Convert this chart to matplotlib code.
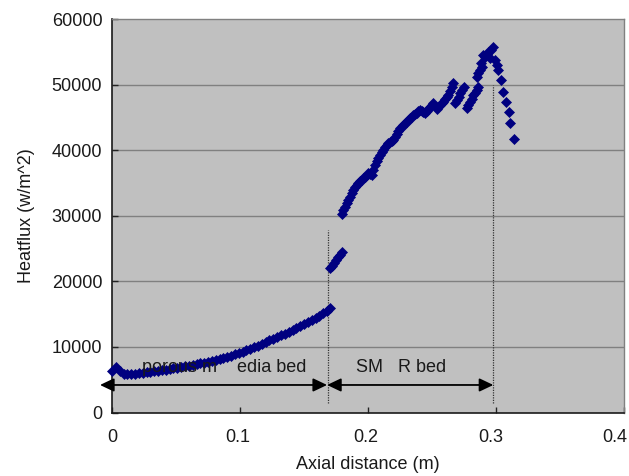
import matplotlib
matplotlib.use("Agg")
import matplotlib.pyplot as plt
from matplotlib.transforms import ScaledTranslation

plt.rcParams['font.family'] = ['Liberation Sans', 'DejaVu Sans']

# ---- data ----
# porous media bed section
seg1_x = [0.000, 0.003, 0.006, 0.009, 0.012, 0.015, 0.018, 0.021, 0.024, 0.027,
          0.030, 0.033, 0.036, 0.039, 0.042, 0.045, 0.048, 0.051, 0.054, 0.057,
          0.060, 0.063, 0.066, 0.069, 0.072, 0.075, 0.078, 0.081, 0.084, 0.087,
          0.090, 0.093, 0.096, 0.099, 0.102, 0.105, 0.108, 0.111, 0.114, 0.117,
          0.120, 0.123, 0.126, 0.129, 0.132, 0.135, 0.138, 0.141, 0.144, 0.147,
          0.150, 0.153, 0.156, 0.159, 0.162, 0.165, 0.168, 0.170]
seg1_y = [6300, 6900, 6400, 5950, 5850, 5880, 5940, 6010, 6080, 6150,
          6230, 6310, 6390, 6470, 6560, 6650, 6740, 6840, 6940, 7040,
          7140, 7250, 7360, 7480, 7600, 7730, 7870, 8010, 8160, 8320,
          8490, 8670, 8860, 9060, 9270, 9490, 9720, 9960, 10210, 10470,
          10740, 11000, 11250, 11500, 11760, 12020, 12290, 12560, 12840, 13130,
          13430, 13740, 14060, 14400, 14760, 15140, 15560, 15950]

# short jump segment
seg2_x = [0.1705, 0.1720, 0.1735, 0.1750, 0.1765, 0.1780, 0.1795]
seg2_y = [22000, 22400, 22800, 23200, 23700, 24100, 24550]

# SMR bed section
seg3_x = [0.1795, 0.1808, 0.1820, 0.1833, 0.1846, 0.1859, 0.1872, 0.1885, 0.1898, 0.1911,
          0.1924, 0.1938, 0.1951, 0.1964, 0.1977, 0.1990, 0.2002, 0.2015, 0.2029, 0.2042,
          0.2055, 0.2068, 0.2081, 0.2094, 0.2107, 0.2120, 0.2133, 0.2146, 0.2159, 0.2172,
          0.2185, 0.2198, 0.2211, 0.2224, 0.2237, 0.2250, 0.2263, 0.2276, 0.2289, 0.2302,
          0.2315, 0.2328, 0.2341, 0.2354, 0.2367, 0.2380, 0.2393, 0.2406, 0.2419, 0.2432,
          0.2445, 0.2458, 0.2471, 0.2484, 0.2497, 0.2510, 0.2523, 0.2537, 0.2550, 0.2563,
          0.2576, 0.2588, 0.2601, 0.2614, 0.2627, 0.2640, 0.2653, 0.2666,
          0.2680, 0.2694, 0.2708, 0.2722, 0.2736, 0.2750,
          0.2771, 0.2784, 0.2797, 0.2810, 0.2823, 0.2836, 0.2849, 0.2862,
          0.2855, 0.2862, 0.2875, 0.2888, 0.2880, 0.2901, 0.2914, 0.2927, 0.2940, 0.2953,
          0.2960, 0.2979, 0.2992, 0.3005, 0.3018, 0.3037, 0.3057, 0.3080, 0.3100, 0.3113,
          0.3139]
seg3_y = [30300, 30850, 31400, 31900, 32450, 32950, 33450, 33950, 34450, 34750,
          35000, 35250, 35500, 35750, 36000, 36250, 36500, 36350, 36250, 37000,
          37800, 38300, 38800, 39300, 39700, 40100, 40450, 40850, 41050, 41250,
          41450, 41650, 42050, 42450, 42900, 43350, 43600, 43850, 44100, 44400,
          44650, 44900, 45100, 45350, 45550, 45750, 45950, 46200, 46000, 45800,
          45650, 45950, 46300, 46600, 46900, 47200, 46800, 46350, 46650, 46950,
          47200, 47450, 47800, 48100, 48450, 49000, 49600, 50250,
          47200, 47700, 48200, 48700, 49200, 49700,
          46400, 46900, 47400, 47900, 48400, 48800, 49250, 49700,
          51200, 51750, 52250, 52750, 53300, 54550, 54200, 54700, 55050, 54050,
          55300, 55750, 53800, 53000, 52250, 50750, 48950, 47450, 45900, 44150,
          41700]

x_ticks = [0, 0.1, 0.2, 0.3, 0.4]
x_tick_labels = ["0", "0.1", "0.2", "0.3", "0.4"]
y_ticks = [0, 10000, 20000, 30000, 40000, 50000, 60000]
y_tick_labels = ["0", "10000", "20000", "30000", "40000", "50000", "60000"]

region_labels = ["porous m    edia bed", "SM   R bed"]

# ---- figure ----
fig = plt.figure(figsize=(6.29, 4.76), dpi=100)
ax = fig.add_axes([0.1781, 0.1334, 0.8140, 0.8261])
ax.set_facecolor('#C0C0C0')

for xs, ys in [(seg1_x, seg1_y), (seg2_x, seg2_y), (seg3_x, seg3_y)]:
    ax.plot(xs, ys, linestyle='none', marker='D', markersize=5.0,
            markerfacecolor='#000080', markeredgecolor='#000080',
            markeredgewidth=0.5, clip_on=False, zorder=3)

ax.set_xlim(0, 0.4)
ax.set_ylim(0, 60000)
ax.set_xticks(x_ticks)
ax.set_xticklabels(x_tick_labels)
ax.set_yticks(y_ticks)
ax.set_yticklabels(y_tick_labels)

for yv in y_ticks[1:-1]:
    ax.axhline(yv, color='#808080', linewidth=1.0, zorder=1)

ax.tick_params(axis='both', direction='in', length=4.5, width=1.0,
               color='#222222', labelsize=13, labelcolor='#1a1a1a')
ax.tick_params(axis='x', pad=12)
ax.tick_params(axis='y', pad=7)

# the reference's x tick labels sit slightly left of their ticks
label_shift_px = [0, -2, -2, -5, -9]
for lab, dx in zip(ax.get_xticklabels(), label_shift_px):
    lab.set_transform(lab.get_transform() +
                      ScaledTranslation(dx / 100.0, 0, fig.dpi_scale_trans))

for side in ['left', 'bottom']:
    ax.spines[side].set_color('#1a1a1a')
    ax.spines[side].set_linewidth(1.2)
for side in ['top', 'right']:
    ax.spines[side].set_color('#808080')
    ax.spines[side].set_linewidth(1.0)

ax.set_xlabel('Axial distance (m)', fontsize=13, color='#1a1a1a', labelpad=7)
ax.set_ylabel('Heatflux (w/m^2)', fontsize=13, color='#1a1a1a', labelpad=12)

# dotted boundary lines
ax.plot([0.1684, 0.1684], [1500, 27850], linestyle=(0, (1, 1)), color='#333333',
        linewidth=0.9, zorder=2)
ax.plot([0.2974, 0.2974], [1500, 50000], linestyle=(0, (1, 1)), color='#333333',
        linewidth=0.9, zorder=2)

# double-headed arrows
arrow_kw = dict(arrowstyle='<|-|>,head_length=0.42,head_width=0.2',
                color='black', linewidth=1.3, shrinkA=0, shrinkB=0,
                mutation_scale=20)
ax.annotate('', xy=(0.168, 4200), xytext=(-0.0094, 4200),
            arrowprops=arrow_kw, annotation_clip=False)
ax.annotate('', xy=(0.2979, 4200), xytext=(0.168, 4200),
            arrowprops=arrow_kw, annotation_clip=False)

ax.text(0.0238, 6130, region_labels[0], fontsize=13, color='#1a1a1a',
        ha='left', va='baseline', zorder=4)
ax.text(0.1909, 6130, region_labels[1], fontsize=13, color='#1a1a1a',
        ha='left', va='baseline', zorder=4)

fig.savefig('out.png', dpi=100)
